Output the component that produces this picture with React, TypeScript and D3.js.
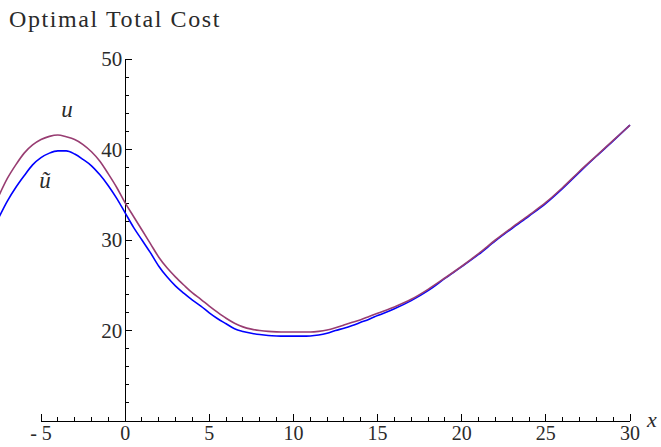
import React from "react";
import * as d3 from "d3";

const xValues = [-7.5,-7,-6.5,-6,-5.5,-5,-4.5,-4,-3.5,-3,-2.5,-2,-1.5,-1,-0.5,0,0.5,1,1.5,2,2.5,3,3.5,4,4.5,5,5.5,6,6.5,7,7.5,8,8.5,9,9.5,10,10.5,11,11.5,12,12.5,13,13.5,14,14.5,15,16,17,18,19,20,21,22,23,24,25,26,27,28,29,30];
const uValues = [34.9,36.8,38.3,39.6,40.5,41.1,41.45,41.6,41.4,41.1,40.55,39.75,38.7,37.3,35.8,34.1,32.6,31.1,29.6,28.1,26.9,25.9,25.0,24.15,23.45,22.7,22.0,21.35,20.8,20.4,20.15,20.0,19.9,19.85,19.83,19.83,19.83,19.83,19.9,20.05,20.3,20.6,20.9,21.2,21.55,21.9,22.6,23.45,24.55,25.8,27.1,28.5,30.0,31.4,32.75,34.15,35.8,37.6,39.3,41.0,42.7];
const uTildeValues = [32.5,34.3,35.8,37.1,38.3,39.1,39.6,39.85,39.85,39.5,38.9,38.2,37.2,36.0,34.6,33.0,31.4,30.0,28.6,27.1,25.9,24.9,24.1,23.35,22.7,21.95,21.3,20.75,20.2,19.9,19.7,19.55,19.45,19.4,19.38,19.38,19.38,19.4,19.5,19.7,20.0,20.25,20.55,20.9,21.25,21.65,22.4,23.3,24.4,25.75,27.05,28.4,29.9,31.3,32.65,34.05,35.7,37.5,39.25,40.95,42.7];

const xMajorTicks = [-5, 0, 5, 10, 15, 20, 25, 30];
const xTickLabels = ["- 5", "0", "5", "10", "15", "20", "25", "30"];
const xMinorTicks = d3.range(-5, 31, 1).filter((v) => v % 5 !== 0);
const yMajorTicks = [20, 30, 40, 50];
const yTickLabels = ["20", "30", "40", "50"];
const yMinorTicks = [12, 14, 16, 18, 22, 24, 26, 28, 32, 34, 36, 38, 42, 44, 46, 48];

const W = 661;
const H = 447;
const FONT = "'Liberation Serif', 'Times New Roman', serif";
const TEXT = "#2a2a2a";

export default function App() {
  const x = d3.scaleLinear().domain([-5, 30]).range([41, 630]);
  const y = d3.scaleLinear().domain([10, 50]).range([421, 59]);
  const x0 = x(0);
  const yAxis = y(10);

  const line = d3
    .line<number>()
    .x((_, i) => x(xValues[i]))
    .y((d) => y(d))
    .curve(d3.curveMonotoneX);

  return (
    <svg
      width={W}
      height={H}
      style={{ position: "absolute", left: 0, top: 0, background: "#fff" }}
      fontFamily={FONT}
    >
      <rect x={0} y={0} width={W} height={H} fill="#fff" />
      <text x={9} y={27} fontSize={24} fill={TEXT} letterSpacing={1.6}>
        Optimal Total Cost
      </text>

      <g shapeRendering="crispEdges" stroke="#000" strokeWidth={1}>
        <line x1={x(-5)} x2={x(30)} y1={yAxis} y2={yAxis} />
        <line x1={x0} x2={x0} y1={y(50)} y2={yAxis} />
        {xMajorTicks.map((t) => (
          <line key={"xM" + t} x1={x(t)} x2={x(t)} y1={yAxis} y2={yAxis - 7} />
        ))}
        {xMinorTicks.map((t) => (
          <line key={"xm" + t} x1={x(t)} x2={x(t)} y1={yAxis} y2={yAxis - 4} />
        ))}
        {yMajorTicks.map((t) => (
          <line key={"yM" + t} x1={x0} x2={x0 + 7} y1={y(t)} y2={y(t)} />
        ))}
        {yMinorTicks.map((t) => (
          <line key={"ym" + t} x1={x0} x2={x0 + 4} y1={y(t)} y2={y(t)} />
        ))}
      </g>

      {xMajorTicks.map((t, i) => (
        <text key={"xl" + t} x={x(t)} y={440} fontSize={20} fill={TEXT} textAnchor="middle">
          {xTickLabels[i]}
        </text>
      ))}
      {yMajorTicks.map((t, i) => (
        <text key={"yl" + t} x={x0 - 3} y={y(t) + 7} fontSize={21} fill={TEXT} textAnchor="end">
          {yTickLabels[i]}
        </text>
      ))}
      <text x={647} y={427} fontSize={22} fontStyle="italic" fill={TEXT}>
        x
      </text>

      <path d={line(uTildeValues) || ""} fill="none" stroke="#0000ff" strokeWidth={1.6} />
      <path d={line(uValues) || ""} fill="none" stroke="#983d72" strokeWidth={1.6} />

      <text x={67} y={117} fontSize={23} fontStyle="italic" fill={TEXT} textAnchor="middle">
        u
      </text>
      <text x={45} y={188} fontSize={23} fontStyle="italic" fill={TEXT} textAnchor="middle">
        ũ
      </text>
    </svg>
  );
}
